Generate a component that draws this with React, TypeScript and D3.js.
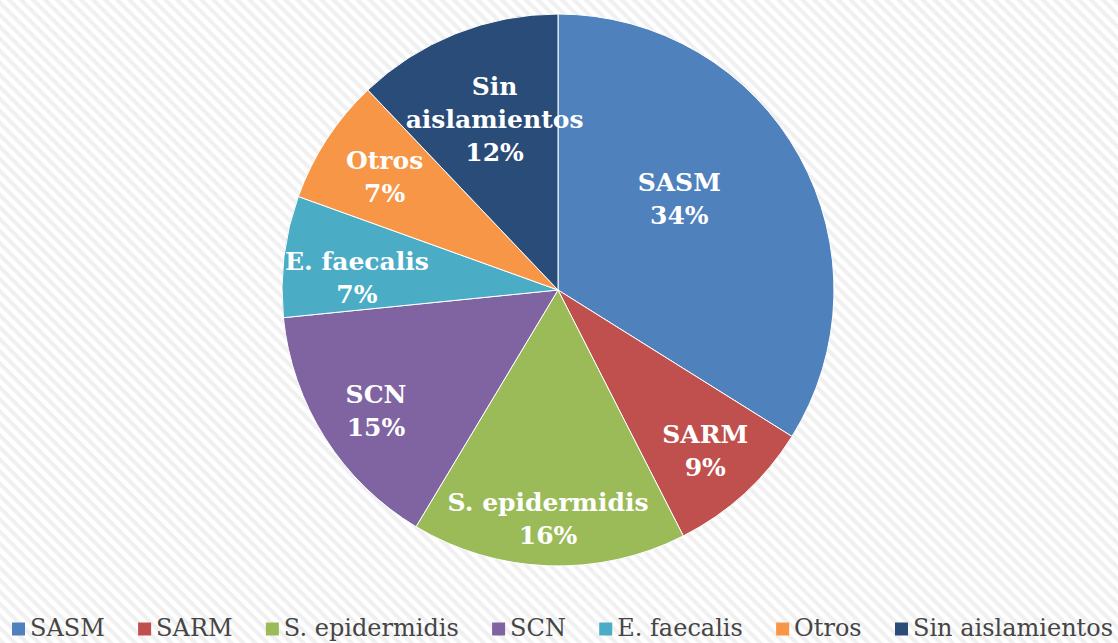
import React, { useEffect, useRef } from "react";
import * as d3 from "d3";

const categories = ["SASM", "SARM", "S. epidermidis", "SCN", "E. faecalis", "Otros", "Sin aislamientos"];
const values = [33.9, 8.6, 16.1, 14.8, 7.1, 7.4, 12.1];
const colors = ["#4f81bd", "#c0504d", "#9bbb59", "#8064a2", "#4bacc6", "#f79646", "#294c79"];
const labelLines = [["SASM"], ["SARM"], ["S. epidermidis"], ["SCN"], ["E. faecalis"], ["Otros"], ["Sin", "aislamientos"]];
// label placement (fraction of radius, angle nudge in degrees)
const labelRadius = [0.55, 0.79, 0.83, 0.79, 0.73, 0.75, 0.66];
const labelNudge = [-8, 0, 0.5, -1, -3.6, 0, 1.4];

const W = 1118;
const H = 643;

export default function App() {
  const ref = useRef<SVGSVGElement>(null);
  useEffect(() => {
    const svg = d3.select(ref.current);
    svg.selectAll("*").remove();

    const defs = svg.append("defs");
    const pat = defs
      .append("pattern")
      .attr("id", "stripes")
      .attr("patternUnits", "userSpaceOnUse")
      .attr("width", 8.5)
      .attr("height", 8.5)
      .attr("patternTransform", "rotate(45)");
    pat.append("rect").attr("width", 8.5).attr("height", 8.5).attr("fill", "#ffffff");
    pat.append("rect").attr("width", 8.5).attr("height", 4).attr("fill", "#f0f0f0");

    svg.append("rect").attr("width", W).attr("height", H).attr("fill", "url(#stripes)");

    const cx = 558;
    const cy = 290;
    const r = 276;

    const total = d3.sum(values);
    const pie = d3.pie<number>().sort(null).value((d) => d);
    const arcs = pie(values);
    const arc = d3.arc<d3.PieArcDatum<number>>().innerRadius(0).outerRadius(r);

    const g = svg.append("g").attr("transform", `translate(${cx},${cy})`);
    g.selectAll("path.slice")
      .data(arcs)
      .join("path")
      .attr("class", "slice")
      .attr("d", arc as any)
      .attr("fill", (_, i) => colors[i])
      .attr("stroke", "#ffffff")
      .attr("stroke-width", 1);

    const fontLabel = "'DejaVu Serif', serif";
    const lineH = 33;
    arcs.forEach((a, i) => {
      const mid = (a.startAngle + a.endAngle) / 2 + (labelNudge[i] * Math.PI) / 180;
      const rr = r * labelRadius[i];
      const x = rr * Math.sin(mid);
      const y = -rr * Math.cos(mid);
      const pct = Math.round((values[i] / total) * 100);
      const lines = [...labelLines[i], `${pct}%`];
      const t = g
        .append("text")
        .attr("text-anchor", "middle")
        .attr("font-family", fontLabel)
        .attr("font-weight", "bold")
        .attr("font-size", 25)
        .attr("fill", "#ffffff");
      const startY = y - ((lines.length - 1) * lineH) / 2 + 9;
      lines.forEach((ln, j) => {
        t.append("tspan").attr("x", x).attr("y", startY + j * lineH).text(ln);
      });
    });

    // legend
    const legendY = 629;
    const sq = 13;
    const pad = 5;
    const lg = svg.append("g");
    const items = categories.map((c, i) => {
      const gi = lg.append("g");
      gi.append("rect").attr("width", sq).attr("height", sq).attr("y", legendY - sq / 2).attr("fill", colors[i]);
      const tx = gi
        .append("text")
        .attr("x", sq + pad)
        .attr("y", legendY + 7)
        .attr("font-family", fontLabel)
        .attr("font-size", 24)
        .attr("fill", "#454545")
        .text(c);
      const w = (tx.node() as SVGTextElement).getComputedTextLength();
      return { gi, w: sq + pad + w };
    });
    const left = 12;
    const right = 1113;
    const totalW = items.reduce((s, it) => s + it.w, 0);
    const gap = (right - left - totalW) / (items.length - 1);
    let x = left;
    items.forEach((it) => {
      it.gi.attr("transform", `translate(${x},0)`);
      x += it.w + gap;
    });
  }, []);

  return (
    <svg
      ref={ref}
      width={W}
      height={H}
      style={{ position: "absolute", left: 0, top: 0, display: "block" }}
    />
  );
}
